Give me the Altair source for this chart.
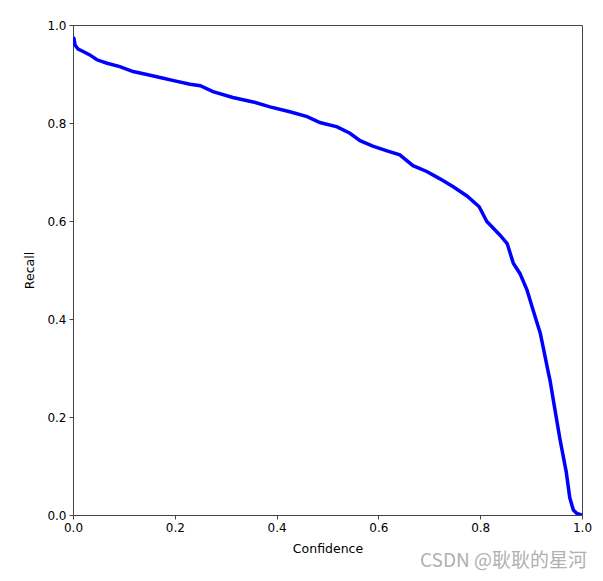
import altair as alt
import pandas as pd

confidence = [0.0, 0.002, 0.004, 0.010, 0.018, 0.033, 0.047, 0.067, 0.092, 0.118, 0.145,
              0.171, 0.200, 0.230, 0.250, 0.275, 0.314, 0.354, 0.387, 0.426, 0.460,
              0.485, 0.519, 0.544, 0.564, 0.589, 0.617, 0.642, 0.668, 0.695, 0.721,
              0.747, 0.774, 0.798, 0.813, 0.839, 0.853, 0.865, 0.878, 0.892, 0.904,
              0.918, 0.924, 0.934, 0.937, 0.947, 0.957, 0.969, 0.976, 0.983, 0.990, 1.0]
recall = [0.975, 0.972, 0.959, 0.951, 0.947, 0.939, 0.929, 0.922, 0.915, 0.905, 0.899,
          0.893, 0.886, 0.879, 0.876, 0.864, 0.852, 0.843, 0.833, 0.823, 0.813,
          0.801, 0.792, 0.779, 0.764, 0.753, 0.743, 0.735, 0.713, 0.701, 0.686,
          0.670, 0.651, 0.629, 0.599, 0.571, 0.554, 0.514, 0.493, 0.459, 0.418,
          0.371, 0.341, 0.290, 0.276, 0.214, 0.153, 0.088, 0.035, 0.010, 0.003, 0.0]

x_ticks = [0.0, 0.2, 0.4, 0.6, 0.8, 1.0]
y_ticks = [0.0, 0.2, 0.4, 0.6, 0.8, 1.0]
watermark = "CSDN @耿耿的星河"

df = pd.DataFrame({"Confidence": confidence, "Recall": recall})

FONT = "DejaVu Sans"

line = alt.Chart(df).mark_line(color="#0000ff", strokeWidth=3.5, clip=True).encode(
    x=alt.X("Confidence:Q",
            scale=alt.Scale(domain=[0, 1], nice=False, zero=False),
            axis=alt.Axis(values=x_ticks, format=".1f", title="Confidence",
                          grid=False, tickSize=4, labelPadding=3, labelFlush=False,
                          titlePadding=9)),
    y=alt.Y("Recall:Q",
            scale=alt.Scale(domain=[0, 1], nice=False, zero=False),
            axis=alt.Axis(values=y_ticks, format=".1f", title="Recall",
                          grid=False, tickSize=4, labelPadding=3, labelFlush=False,
                          titlePadding=10)),
)

wm = alt.Chart(pd.DataFrame({"t": [watermark]})).mark_text(
    align="right", baseline="middle", font="Noto Sans CJK SC",
    fontSize=19, color="#b0b0b0"
).encode(x=alt.value(514), y=alt.value(536), text="t:N")

chart = alt.layer(line, wm).properties(
    width=509, height=490,
    background="white",
    autosize=alt.AutoSizeParams(type="none"),
    padding={"left": 65, "top": 17, "right": 13, "bottom": 58},
).configure_view(
    stroke="#444444", strokeWidth=1
).configure_axis(
    domainColor="#444444", tickColor="#444444", labelColor="#000000",
    titleColor="#000000", labelFont=FONT, titleFont=FONT,
    labelFontSize=12, titleFontSize=12.5, titleFontWeight="normal",
    domainWidth=1, tickWidth=1
)

chart.save("out.html", embed_options={"renderer": "svg", "actions": False})
